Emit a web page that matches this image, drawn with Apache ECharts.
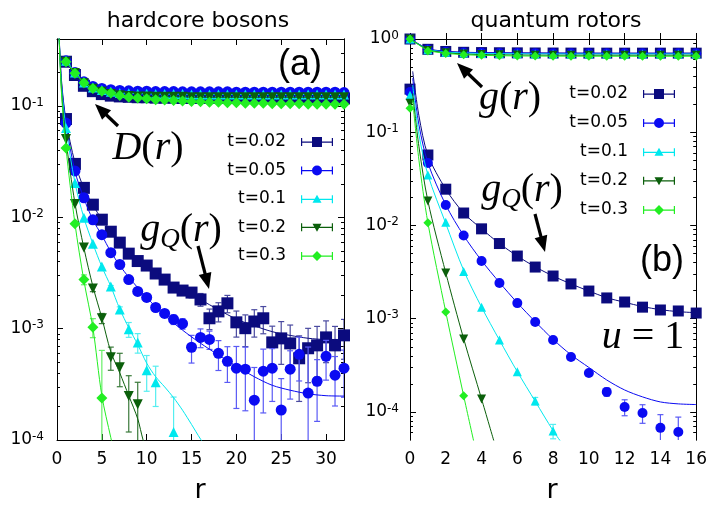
<!DOCTYPE html>
<html><head><meta charset="utf-8">
<script src="https://cdn.jsdelivr.net/npm/echarts@6/dist/echarts.min.js"></script>
<style>html,body{margin:0;padding:0;background:#fff}#c{width:710px;height:506px}</style>
</head><body><div id="c"></div><script>
// ---------------- data ----------------
const tLabels = ['t=0.02','t=0.05','t=0.1','t=0.2','t=0.3'];
const rA = [1,2,3,4,5,6,7,8,9,10,11,12,13,14,15,16,17,18,19,20,21,22,23,24,25,26,27,28,29,30,31,32];
const rB = [0,1,2,3,4,5,6,7,8,9,10,11,12,13,14,15,16];
const xTicksA = [0,5,10,15,20,25,30];
const xTicksB = [0,2,4,6,8,10,12,14,16];
const yTicksA = [-4,-3,-2,-1];     // exponents of 10
const yTicksB = [-4,-3,-2,-1,0];

// panel (a) D(r)
const dA_002 = [0.25,0.19,0.152,0.136,0.128,0.124,0.122,0.121,0.120,0.120,0.119,0.119,0.119,0.118,0.118,0.118,0.118,0.118,0.118,0.118,0.118,0.118,0.118,0.118,0.118,0.118,0.118,0.118,0.118,0.118,0.118,0.117];
const dA_005 = [0.255,0.2,0.165,0.15,0.144,0.14,0.138,0.137,0.136,0.136,0.135,0.135,0.135,0.134,0.134,0.134,0.134,0.134,0.134,0.133,0.133,0.133,0.133,0.133,0.133,0.133,0.133,0.133,0.133,0.133,0.133,0.132];
const dA_01 = [0.255,0.2,0.163,0.147,0.139,0.134,0.131,0.13,0.129,0.129,0.128,0.128,0.128,0.128,0.127,0.127,0.127,0.127,0.127,0.127,0.127,0.127,0.127,0.127,0.127,0.127,0.127,0.127,0.127,0.127,0.127,0.127];
const dA_02 = [0.25,0.198,0.16,0.143,0.134,0.128,0.125,0.123,0.122,0.122,0.121,0.121,0.121,0.121,0.12,0.12,0.12,0.12,0.12,0.12,0.12,0.12,0.12,0.12,0.12,0.12,0.12,0.12,0.12,0.12,0.12,0.12];
const dA_03 = [0.25,0.197,0.162,0.144,0.136,0.131,0.124,0.12,0.118,0.116,0.114,0.113,0.112,0.111,0.11,0.109,0.108,0.108,0.107,0.107,0.106,0.106,0.106,0.105,0.105,0.105,0.105,0.104,0.104,0.104,0.104,0.104];

// panel (a) g_Q(r) and errors
const gqA_002 = [0.0764,0.0302,0.0184,0.0130,0.00953,0.00743,0.00593,0.00472,0.00405,0.00369,0.00313,0.00276,0.00234,0.00220,0.00211,0.00183,0.00124,0.00143,0.00169,0.00114,0.00101,0.00116,0.00124,0.000753,0.000818,0.000738,0.000542,0.000667,0.000708,0.000835,0.000708,0.000871];
const eA_002 = [0,0,0,0,0,0,0,0,0,0,0.00015,0.00018,0.0002,0.0002,0.00022,0.00024,0.00026,0.00028,0.0003,0.0003,0.00032,0.00032,0.00034,0.0003,0.00034,0.00034,0.00032,0.00034,0.00034,0.00034,0.00034,0.00034];
const gqA_005 = [0.0703,0.0261,0.0150,0.0095,0.00698,0.00482,0.00377,0.00276,0.00216,0.00191,0.00155,0.00137,0.00121,0.00111,0.000681,0.000835,0.000801,0.000601,0.000509,0.000442,0.000433,0.000228,0.000415,0.000442,0.000186,0.000433,0.000589,0.000264,0.000337,0.000565,0.000382,0.000442];
const eA_005 = [0,0,0,0,0,0,0,0,0.00006,0.00008,0.0001,0.0001,0.00012,0.00012,0.00019,0.00016,0.00015,0.00018,0.00018,0.00025,0.00025,0.00022,0.00024,0.00022,0.00017,0.0002,0.00025,0.00042,0.00019,0.00022,0.00018,0.0002];
const gqA_01 = [0.0634,0.0204,0.0099,0.0058,0.00361,0.00239,0.00149,0.000986,0.000753,0.000424,0.000330,null,0.000118];
const eA_01 = [0,0,0,0,0,0.00005,0.00008,0.00015,0.00015,0.00015,0.00013,null,0.000125];
const gqA_02 = [0.0506,0.0132,0.00535,0.00230,0.00124,0.000553,0.000451,0.000248,0.000210];
const eA_02 = [0,0,0,0.00015,0.00013,0.00013,0.00015,0.00013,0.00012];
const gqA_03 = [0.0420,0.00877,0.00276,0.00103,0.000238];
const eA_03 = [0,0,0.00028,0.0002,0.0004];

// panel (a) fit curves
const fA_r_002 = [0.2,0.5,1,2,3,4,5,6,8,10,12,14,16,18,20,22,24,26,28,30,32];
const fA_v_002 = [0.5,0.17,0.075,0.031,0.0182,0.0129,0.0096,0.0075,0.0049,0.0036,0.0028,0.0022,0.00182,0.00148,0.00122,0.00106,0.00094,0.00087,0.00082,0.0008,0.0008];
const fA_r_005 = [0.2,0.5,1,2,3,4,5,6,7,8,10,12,14,16,18,20,22,24,26,28,30,32];
const fA_v_005 = [0.5,0.16,0.07,0.026,0.0148,0.0095,0.0069,0.0049,0.0037,0.0029,0.0019,0.00132,0.00097,0.00074,0.00058,0.00046,0.00037,0.00031,0.00028,0.00026,0.00025,0.000248];
const fA_r_01 = [0.2,0.5,1,2,3,4,5,6,7,8,9,10,11,12,13,14,15,16,16.5];
const fA_v_01 = [0.5,0.15,0.063,0.0205,0.0099,0.0058,0.0036,0.0024,0.0015,0.00102,0.00072,0.00049,0.00037,0.0003,0.00024,0.000185,0.000138,0.000102,0.00009];
const fA_r_02 = [0.2,0.5,1,2,3,4,5,6,7,8,9,9.6,10];
const fA_v_02 = [0.5,0.14,0.05,0.0134,0.0053,0.0024,0.00125,0.00062,0.0004,0.00025,0.000155,0.0001,0.000083];
const fA_r_03 = [0.2,0.5,1,2,3,4,5,6,6.5];
const fA_v_03 = [0.5,0.13,0.042,0.0088,0.0027,0.00102,0.00025,0.000105,0.00007];

// panel (b) g(r)
const gB_002 = [1.0,0.775,0.735,0.72,0.715,0.712,0.71,0.708,0.707,0.706,0.705,0.705,0.705,0.705,0.705,0.705,0.705];
const gB_005 = [1.0,0.77,0.73,0.717,0.712,0.709,0.707,0.705,0.704,0.703,0.703,0.702,0.702,0.702,0.702,0.702,0.702];
const gB_01 = [1.0,0.765,0.722,0.708,0.7,0.696,0.694,0.692,0.691,0.69,0.69,0.69,0.69,0.69,0.69,0.69,0.69];
const gB_02 = [1.0,0.755,0.71,0.69,0.68,0.676,0.673,0.671,0.67,0.67,0.67,0.67,0.67,0.67,0.67,0.67,0.67];
const gB_03 = [1.0,0.745,0.70,0.678,0.668,0.662,0.658,0.656,0.655,0.654,0.654,0.653,0.653,0.653,0.653,0.653,0.653];

// panel (b) g_Q(r) and errors
const gqB_002 = [0.29,0.057,0.0245,0.0136,0.0092,0.0064,0.0047,0.00358,0.00287,0.00236,0.00198,0.00167,0.00151,0.00133,0.00124,0.00121,0.00115];
const eB_002 = [0,0,0,0,0,0,0,0,0,0,0,0,0,0,0,0,0];
const gqB_005 = [0.27,0.0467,0.0166,0.0078,0.00416,0.00242,0.00147,0.000923,0.000592,0.000389,0.000262,0.000164,0.000113,0.0000975,0.0000675,0.000061];
const eB_005 = [0,0,0,0,0,0,0,0,0,0,0,0.000017,0.000022,0.000022,0.000026,0.000027];
const gqB_01 = [0.25,0.0347,0.0108,0.0032,0.00133,0.000592,0.000269,0.000131,0.0000625];
const eB_01 = [0,0,0,0,0,0,0,0.000012,0.000011];
const gqB_02 = [0.205,0.0183,0.0031,0.000607,0.000138];
const eB_02 = [0,0,0,0,0];
const gqB_03 = [0.181,0.0107,0.00118,0.000149];
const eB_03 = [0,0,0,0];

// panel (b) fit curves
const fB_r_002 = [0.15,0.5,1,2,3,4,5,6,7,8,9,10,11,12,13,14,15,16];
const fB_v_002 = [0.45,0.15,0.057,0.0245,0.0136,0.0092,0.0064,0.0047,0.0036,0.00287,0.00236,0.00198,0.00168,0.0015,0.00135,0.00125,0.00119,0.00116];
const fB_r_005 = [0.15,0.5,1,2,3,4,5,6,7,8,9,10,11,12,13,14,15,16];
const fB_v_005 = [0.38,0.12,0.047,0.0166,0.0078,0.0042,0.00245,0.00148,0.00093,0.0006,0.00041,0.0003,0.00022,0.000172,0.000145,0.000128,0.000122,0.00012];
const fB_r_01 = [0.15,0.5,1,2,3,4,5,6,7,8,8.5];
const fB_v_01 = [0.32,0.095,0.035,0.0105,0.0033,0.00133,0.00059,0.00027,0.00013,0.000063,0.000046];
const fB_r_02 = [0.15,0.5,1,2,3,4,4.7];
const fB_v_02 = [0.26,0.07,0.0183,0.0031,0.00061,0.000138,0.000048];
const fB_r_03 = [0.15,0.5,1,2,3,3.6];
const fB_v_03 = [0.22,0.05,0.0107,0.00118,0.000149,0.000045];

// ---------------- styling ----------------
const colors = ['#0b0b7e','#0a0af2','#00e8ee','#0b5f0b','#22ee22'];
const errColors = ['#4a4aa0','#5a5af5','#55eef0','#3a7a3a','#66f066'];
const symbols = ['rect','circle','triangle','triangle','diamond'];
const rotates = [0,0,0,180,0];
const sizeA = [12,11,10,10,11];
const sizeB = [11,10,9,9,9];
const FONT = 'DejaVu Sans';
const L10 = Math.log10;

const panelA = {D:[dA_002,dA_005,dA_01,dA_02,dA_03], gq:[gqA_002,gqA_005,gqA_01,gqA_02,gqA_03], e:[eA_002,eA_005,eA_01,eA_02,eA_03],
  fr:[fA_r_002,fA_r_005,fA_r_01,fA_r_02,fA_r_03], fv:[fA_v_002,fA_v_005,fA_v_01,fA_v_02,fA_v_03]};
const panelB = {D:[gB_002,gB_005,gB_01,gB_02,gB_03], gq:[gqB_002,gqB_005,gqB_01,gqB_02,gqB_03], e:[eB_002,eB_005,eB_01,eB_02,eB_03],
  fr:[fB_r_002,fB_r_005,fB_r_01,fB_r_02,fB_r_03], fv:[fB_v_002,fB_v_005,fB_v_01,fB_v_02,fB_v_03]};

function xy(rs, vs){ const out=[]; rs.forEach((r,i)=>{ if(vs[i]!=null && i<vs.length) out.push([r, L10(vs[i])]); }); return out; }
function errData(rs, vs, es){ const out=[]; rs.forEach((r,i)=>{ if(i<vs.length && vs[i]!=null && es[i]){ const lo=vs[i]-es[i]; out.push([r, L10(vs[i]), lo>0?L10(lo):-20, L10(vs[i]+es[i])]); } }); return out; }

function errRender(color){
  return function(params, api){
    const cs = params.coordSys;
    const x = api.value(0);
    const pt = api.coord([x, api.value(3)]);
    const pb = api.coord([x, api.value(2)]);
    const top = cs.y, bot = cs.y + cs.height;
    const yt = Math.max(pt[1], top), yb = Math.min(pb[1], bot);
    const st = {stroke: color, lineWidth: 1.2};
    const ch = [{type:'line', shape:{x1:pt[0], y1:yb, x2:pt[0], y2:yt}, style:st}];
    if (pt[1] >= top) ch.push({type:'line', shape:{x1:pt[0]-3, y1:pt[1], x2:pt[0]+3, y2:pt[1]}, style:st});
    if (pb[1] <= bot) ch.push({type:'line', shape:{x1:pb[0]-3, y1:pb[1], x2:pb[0]+3, y2:pb[1]}, style:st});
    return {type:'group', children: ch};
  };
}

const series = [];
function addPanel(P, rs, xi, yi, sizes, dName){
  for (let i=0;i<5;i++){
    series.push({type:'line', name:dName+i, xAxisIndex:xi, yAxisIndex:yi, data: xy(rs, P.D[i]),
      symbol:symbols[i], symbolRotate:rotates[i], symbolSize:sizes[i], showSymbol:true,
      lineStyle:{color:colors[i], width:1}, itemStyle:{color:colors[i]}, z:2+i, silent:true, animation:false});
  }
  for (let i=0;i<5;i++){
    series.push({type:'custom', name:'err'+dName+i, xAxisIndex:xi, yAxisIndex:yi, data: errData(rs, P.gq[i], P.e[i]),
      renderItem: errRender(errColors[i]), encode:{x:0, y:1}, clip:true, z:10+2*i, silent:true, animation:false});
    series.push({type:'scatter', name:tLabels[i], xAxisIndex:xi, yAxisIndex:yi, data: xy(rs, P.gq[i]),
      symbol:symbols[i], symbolRotate:rotates[i], symbolSize:sizes[i], itemStyle:{color:colors[i], opacity:1},
      clip:false, z:11+2*i, silent:true, animation:false});
    series.push({type:'line', name:'fit'+dName+i, xAxisIndex:xi, yAxisIndex:yi, data: xy(P.fr[i], P.fv[i]),
      showSymbol:false, symbol:'none', smooth:0.3, lineStyle:{color:colors[i], width:1}, clip:true, z:11+2*i, silent:true, animation:false});
  }
}
addPanel(panelA, rA, 0, 0, sizeA, 'DA');
addPanel(panelB, rB, 2, 4, sizeB, 'GB');

// axes
function minorVals(lo, hi){ const v=[]; for(let n=-6;n<=1;n++){ for(let k=2;k<=9;k++){ const l=L10(k*Math.pow(10,n)); if(l>lo+1e-6 && l<hi-1e-6) v.push(l);} } return v; }
const axLine = {show:true, lineStyle:{color:'#000', width:1}};
function yAxes(grid, lo, hi, majors, margin){
  const base = {type:'value', gridIndex:grid, min:lo, max:hi, splitLine:{show:false}, axisLine:axLine};
  const lab = {show:true, customValues:majors, margin:margin, color:'#000',
    formatter: v => '{b|10}{s|' + Math.round(v) + '}',
    rich:{b:{fontFamily:FONT, fontSize:17, color:'#000'}, s:{fontFamily:FONT, fontSize:12, color:'#000', padding:[0,0,7,0]}}};
  const mt = {show:true, inside:true, length:6, customValues:majors, lineStyle:{color:'#000'}};
  const nt = {show:true, inside:true, length:3, customValues:minorVals(lo,hi), lineStyle:{color:'#000'}};
  return [
    Object.assign({}, base, {position:'left', axisTick:mt, axisLabel:lab}),
    Object.assign({}, base, {position:'left', axisTick:nt, axisLabel:{show:false}}),
    Object.assign({}, base, {position:'right', axisTick:mt, axisLabel:{show:false}}),
    Object.assign({}, base, {position:'right', axisTick:nt, axisLabel:{show:false}})
  ];
}
function xAxes(grid, lo, hi, ticks){
  const base = {type:'value', gridIndex:grid, min:lo, max:hi, splitLine:{show:false}, axisLine:axLine};
  const tk = {show:true, inside:true, length:6, customValues:ticks, lineStyle:{color:'#000'}};
  return [
    Object.assign({}, base, {position:'bottom', axisTick:tk, axisLabel:{show:true, customValues:ticks, margin:11, color:'#000', fontFamily:FONT, fontSize:17}}),
    Object.assign({}, base, {position:'top', axisTick:tk, axisLabel:{show:false}})
  ];
}

// legend icons: error bar with caps + symbol, drawn in series colour
const bar = 'M0,4.5h32v1.2h-32z M0,1h1.2v8h-1.2z M30.8,1h1.2v8h-1.2z ';
const icons = [
  'path://' + bar + 'M11,0h10v10h-10z',
  'path://' + bar + 'M21,5A5,5 0 1 1 11,5A5,5 0 1 1 21,5z',
  'path://' + bar + 'M16,0.5L20.5,8.5L11.5,8.5z',
  'path://' + bar + 'M11.5,1.5L20.5,1.5L16,9.5z',
  'path://' + bar + 'M16,0L21,5L16,10L11,5z'
];
function legendAt(right, top, gap){
  return {data: tLabels.map((n,i)=>({name:n, icon:icons[i]})), orient:'vertical', align:'right',
    right:right, top:top, itemWidth:32, itemHeight:10, itemGap:gap, padding:0, selectedMode:false,
    textStyle:{fontFamily:FONT, fontSize:17, color:'#000', lineHeight:18, padding:[0,10,0,0]}};
}

// annotations
function arrow(x1,y1,x2,y2){
  const dx=x2-x1, dy=y2-y1, len=Math.hypot(dx,dy), ux=dx/len, uy=dy/len, hl=16, hw=6.5;
  const bx=x2-ux*hl, by=y2-uy*hl;
  return [{type:'line', shape:{x1:x1,y1:y1,x2:bx+ux*3,y2:by+uy*3}, style:{stroke:'#000', lineWidth:3.2}},
          {type:'polygon', shape:{points:[[x2,y2],[bx-uy*hw,by+ux*hw],[bx+uy*hw,by-ux*hw]]}, style:{fill:'#000'}}];
}
const SERIF = 'Liberation Serif';
const mrich = {
  i:{fontFamily:SERIF, fontStyle:'italic', fontSize:40, color:'#000'},
  n:{fontFamily:SERIF, fontSize:40, color:'#000'},
  q:{fontFamily:SERIF, fontStyle:'italic', fontSize:27, color:'#000', padding:[20,0,0,0]}
};
function txt(x, y, text, font, size, extra){
  return Object.assign({type:'text', x:x, y:y, silent:true,
    style:Object.assign({text:text, fontFamily:font, fontSize:size, fill:'#000',
      align:'center', verticalAlign:'middle', textAlign:'center', textVerticalAlign:'middle'}, extra||{})});
}
const graphics = [
  txt(198, 21, 'hardcore bosons', FONT, 22),
  txt(556, 21, 'quantum rotors', FONT, 22),
  txt(300, 65, '(a)', 'Liberation Sans', 36),
  txt(662, 261, '(b)', 'Liberation Sans', 36),
  txt(200, 491, 'r', FONT, 27),
  txt(552, 491, 'r', FONT, 27),
  txt(148, 148, '{i|D}{n|(}{i|r}{n|)}', SERIF, 40, {rich:mrich}),
  txt(181, 230, '{i|g}{q|Q}{n|(}{i|r}{n|)}', SERIF, 40, {rich:mrich}),
  txt(510, 98, '{i|g}{n|(}{i|r}{n|)}', SERIF, 40, {rich:mrich}),
  txt(522, 190, '{i|g}{q|Q}{n|(}{i|r}{n|)}', SERIF, 40, {rich:mrich}),
  txt(643, 337, '{i|u}{n| = 1}', SERIF, 40, {rich:mrich})
].concat(arrow(118,126,95,104), arrow(198,246,209,289), arrow(482,87,457,63), arrow(535,214,545,252));

const option = {
  animation:false,
  backgroundColor:'#fff',
  grid:[{left:57, top:39, width:287, height:401}, {left:410, top:39, width:287, height:401}],
  xAxis: xAxes(0, 0, 32, xTicksA).concat(xAxes(1, 0, 16, xTicksB)),
  yAxis: yAxes(0, -4, L10(0.4), yTicksA, 13).concat(yAxes(1, L10(5e-5), 0, yTicksB, 11)),
  legend:[legendAt(377, 133, 10.5), legendAt(35, 85, 11)],
  series: series,
  graphic: graphics
};
const chart = echarts.init(document.getElementById('c'), null, {renderer:'canvas'});
chart.setOption(option);
</script></body></html>
